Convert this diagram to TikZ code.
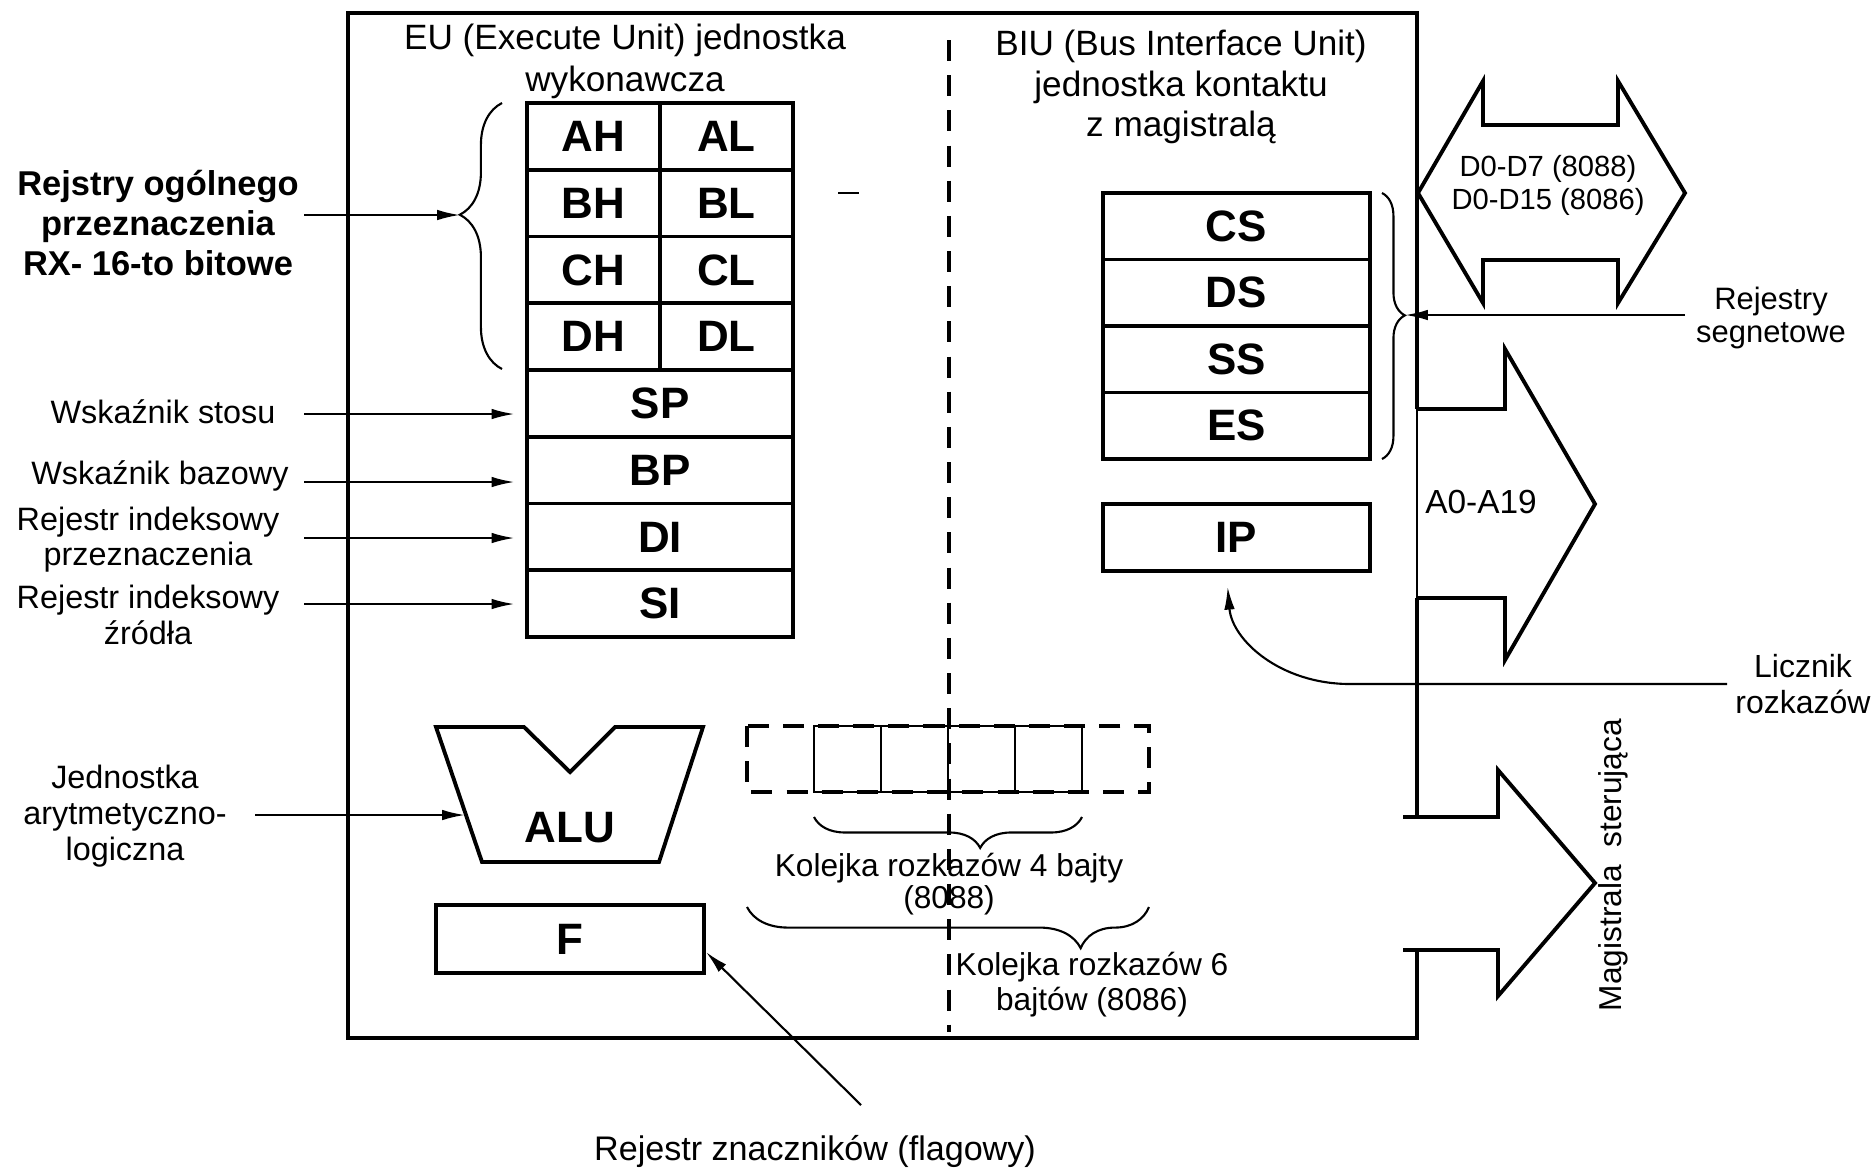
\documentclass[tikz,border=0pt]{standalone}
\usepackage{fontspec}
\setmainfont{Liberation Sans}
\usetikzlibrary{arrows.meta,decorations.pathreplacing}

\begin{document}
\begin{tikzpicture}[x=0.01cm,y=-0.01cm,>={Latex[length=6.5pt,width=3pt]},
  regh/.style={draw,line width=1.1pt,minimum width=1.33cm,minimum height=0.6675cm,inner sep=0pt,font=\fontsize{12.5}{14}\selectfont\bfseries},
  regf/.style={regh,minimum width=2.66cm},
  regs/.style={regh,minimum width=2.67cm,minimum height=0.665cm},
  qcell/.style={draw,line width=0.8pt,minimum width=0.67cm,minimum height=0.66cm,inner sep=0pt},
  lbl/.style={align=center,inner sep=0pt,font=\fontsize{9.2}{10}\selectfont},
  ttl/.style={align=center,inner sep=0pt,font=\fontsize{10}{12}\selectfont},
  pointer/.style={->,line width=0.6pt},
  bus/.style={line width=1.1pt,line join=miter},
  curly/.style={decorate,line width=0.6pt}]
  \useasboundingbox (0,0) rectangle (1874,1169);

  % outer frame of the processor
  \draw[line width=1.1pt] (1417,409) -- (1417,13) -- (348,13) -- (348,1038) -- (1417,1038) -- (1417,950);
  \draw[line width=1.1pt] (1417,598) -- (1417,817);
  \draw[line width=0.5pt] (1417,409) -- (1417,598);
  \draw[line width=0.9pt,dash pattern=on 6pt off 4pt] (949,40) -- (949,1032);

  \node[ttl] (eut) at (625,61) {EU (Execute Unit) jednostka\\wykonawcza};
  \node[ttl,font=\fontsize{10}{11.5}\selectfont] (biut) at (1181,87) {BIU (Bus Interface Unit)\\jednostka kontaktu\\z magistralą};

  % EU registers
  \node[regh] (ah) at (593.5,136.4) {AH};
  \node[regh] (al) at (726.5,136.4) {AL};
  \node[regh] (bh) at (593.5,203.1) {BH};
  \node[regh] (bl) at (726.5,203.1) {BL};
  \node[regh] (ch) at (593.5,269.9) {CH};
  \node[regh] (cl) at (726.5,269.9) {CL};
  \node[regh] (dh) at (593.5,336.6) {DH};
  \node[regh] (dl) at (726.5,336.6) {DL};
  \node[regf] (sp) at (660,403.4) {SP};
  \node[regf] (bp) at (660,470.1) {BP};
  \node[regf] (di) at (660,536.9) {DI};
  \node[regf] (si) at (660,603.6) {SI};
  \draw[line width=0.5pt] (838,193) -- (859,193);

  \draw[curly,decoration={brace,amplitude=12pt,aspect=0.58}] (502,369) -- (502,103);
  \coordinate (gprtip) at (460,215);

  % ALU and flags
  \draw[line width=1.1pt,line join=miter] (436,727) -- (524,727) -- (570,772) -- (615,727) -- (703,727) -- (659,862) -- (482,862) -- cycle;
  \node[font=\fontsize{12.5}{14}\selectfont\bfseries] (alu) at (570,828) {ALU};
  \coordinate (aluw) at (465,815);
  \node[regh,minimum width=2.68cm,minimum height=0.68cm] (flag) at (570,939) {F};

  % instruction queue
  \draw[line width=0.9pt,dash pattern=on 6pt off 4pt] (747,726) rectangle (1149,792);
  \node[qcell] (q1) at (847.5,759) {};
  \node[qcell] (q2) at (914.5,759) {};
  \node[qcell] (q3) at (981.5,759) {};
  \node[qcell] (q4) at (1048.5,759) {};
  \draw[curly,decoration={brace,amplitude=8.8pt,aspect=0.38}] (1082,817) -- (814,817);
  \draw[curly,decoration={brace,amplitude=11.7pt,aspect=0.17}] (1149,907) -- (747,907);
  \node[lbl,font=\fontsize{9}{9.3}\selectfont] (q4l) at (949,884) {Kolejka rozkazów 4 bajty\\(8088)};
  \node[lbl,font=\fontsize{9}{10}\selectfont] (q6l) at (1092,985) {Kolejka rozkazów 6\\bajtów (8086)};

  % BIU registers
  \node[regs] (cs) at (1236.5,226.25) {CS};
  \node[regs] (ds) at (1236.5,292.75) {DS};
  \node[regs] (ss) at (1236.5,359.25) {SS};
  \node[regs] (es) at (1236.5,425.75) {ES};
  \node[regs] (ip) at (1236.5,537.5) {IP};
  \draw[curly,decoration={brace,amplitude=6.5pt,aspect=0.46}] (1382,193) -- (1382,459);
  \coordinate (segtip) at (1405,315);

  % buses
  \draw[bus] (1418,193) -- (1483,81) -- (1483,125) -- (1618,125) -- (1618,81) -- (1685,193) -- (1618,303) -- (1618,260) -- (1483,260) -- (1483,303) -- cycle;
  \draw[bus] (1417,409) -- (1505,409) -- (1505,349) -- (1595,504) -- (1505,660) -- (1505,598) -- (1417,598);
  \draw[bus] (1403,817) -- (1498,817) -- (1498,770) -- (1595,883) -- (1498,996) -- (1498,950) -- (1403,950);
  \node[lbl,font=\fontsize{8.3}{9.4}\selectfont] (datal) at (1548,185) {D0-D7 (8088)\\D0-D15 (8086)};
  \node[lbl,font=\fontsize{9.5}{10}\selectfont] (addrl) at (1481,502) {A0-A19};
  \node[lbl,font=\fontsize{9}{10}\selectfont,rotate=90] (ctrll) at (1613,865) {Magistrala\ \ sterująca};

  % labels on the left
  \node[lbl,font=\fontsize{9.8}{11.4}\selectfont\bfseries] (gpr) at (158,223) {Rejstry ogólnego\\przeznaczenia\\RX- 16-to bitowe};
  \coordinate (gprin) at (304,215);
  \draw[pointer] (gprin) -- (gprtip);
  \node[lbl] (wsp) at (163,412) {Wskaźnik stosu};
  \coordinate (wspin) at (304,414);
  \draw[pointer,shorten >=3pt] (wspin) -- (wspin -| sp.west);
  \node[lbl] (wbp) at (160,476) {Wskaźnik bazowy};
  \coordinate (wbpin) at (304,482);
  \draw[pointer,shorten >=3pt] (wbpin) -- (wbpin -| bp.west);
  \node[lbl] (rdi) at (148,540) {Rejestr indeksowy\\przeznaczenia};
  \coordinate (rdiin) at (304,538);
  \draw[pointer,shorten >=3pt] (rdiin) -- (rdiin -| di.west);
  \node[lbl] (rsi) at (148,615) {Rejestr indeksowy\\źródła};
  \coordinate (rsiin) at (304,604);
  \draw[pointer,shorten >=3pt] (rsiin) -- (rsiin -| si.west);
  \node[lbl,font=\fontsize{9.2}{10.2}\selectfont] (alul) at (125,816) {Jednostka\\arytmetyczno-\\logiczna};
  \coordinate (aluin) at (255,815);
  \draw[pointer] (aluin) -- (aluw);

  % labels on the right and below
  \node[lbl,font=\fontsize{8.8}{9.4}\selectfont] (segl) at (1771,318) {Rejestry\\segnetowe};
  \coordinate (segin) at (1685,315);
  \draw[pointer] (segin) -- (segtip);
  \node[lbl,font=\fontsize{9.1}{10}\selectfont] (liczl) at (1803,684) {Licznik\\rozkazów};
  \coordinate (liczin) at (1727,684);
  \draw[pointer,shorten >=4pt] (liczin) -- (1350,684) .. controls (1280,684) and (1232,640) .. ([xshift=-0.1cm]ip.south);
  \node[lbl,font=\fontsize{9.7}{10}\selectfont] (flagl) at (815,1151) {Rejestr znaczników (flagowy)};
  \coordinate (flagin) at (861,1105);
  \draw[pointer] (flagin) -- ([yshift=-0.13cm]flag.east);
\end{tikzpicture}
\end{document}
